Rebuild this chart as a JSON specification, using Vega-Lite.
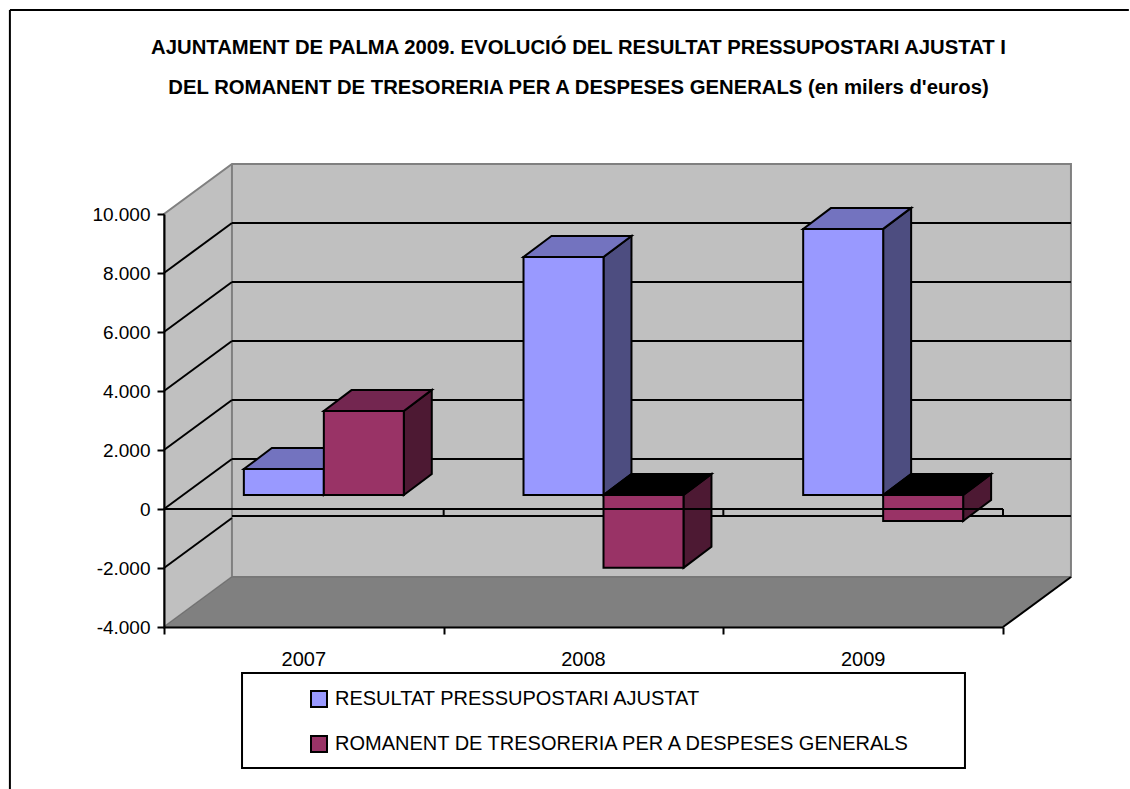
{
"$schema":"https://vega.github.io/schema/vega-lite/v6.json",
"width":839,"height":413,
"autosize":"none",
"padding":{"left":164,"top":214,"right":127,"bottom":162},
"background":"white",
"title":{"text":["AJUNTAMENT DE PALMA 2009. EVOLUCIÓ DEL RESULTAT PRESSUPOSTARI AJUSTAT I","DEL ROMANENT DE TRESORERIA PER A DESPESES GENERALS (en milers d'euros)"],"font":"Liberation Sans","fontWeight":"bold","fontSize":20.3,"lineHeight":40,"anchor":"middle","dx":-5,"offset":-89,"color":"black"},
"config":{"view":{"stroke":null},"axis":{"grid":false,"title":null,"labelFont":"Liberation Sans","labelFontSize":19,"labelColor":"black","domainColor":"black","tickColor":"black","domainWidth":2,"tickWidth":2,"tickSize":7}},
"datasets":{
"bars":[
{"year":"2007","series":"RESULTAT PRESSUPOSTARI AJUSTAT","value":880},
{"year":"2007","series":"ROMANENT DE TRESORERIA PER A DESPESES GENERALS","value":2850},
{"year":"2008","series":"RESULTAT PRESSUPOSTARI AJUSTAT","value":8070},
{"year":"2008","series":"ROMANENT DE TRESORERIA PER A DESPESES GENERALS","value":-2470},
{"year":"2009","series":"RESULTAT PRESSUPOSTARI AJUSTAT","value":9020},
{"year":"2009","series":"ROMANENT DE TRESORERIA PER A DESPESES GENERALS","value":-880}],
"sides":[
{"id":"B07","tone":"a","x":0.5,"lo":0,"hi":880},{"id":"B07","tone":"a","x":0.6,"lo":712,"hi":1592},
{"id":"R07","tone":"b","x":0.786,"lo":0,"hi":2850},{"id":"R07","tone":"b","x":0.886,"lo":712,"hi":3562},
{"id":"B08","tone":"a","x":1.5,"lo":0,"hi":8070},{"id":"B08","tone":"a","x":1.6,"lo":712,"hi":8782},
{"id":"R08","tone":"b","x":1.786,"lo":-2470,"hi":0},{"id":"R08","tone":"b","x":1.886,"lo":-1758,"hi":712},
{"id":"B09","tone":"a","x":2.5,"lo":0,"hi":9020},{"id":"B09","tone":"a","x":2.6,"lo":712,"hi":9732},
{"id":"R09","tone":"b","x":2.786,"lo":-880,"hi":0},{"id":"R09","tone":"b","x":2.886,"lo":-168,"hi":712}],
"tops":[
{"id":"B07","tone":"a","y":880,"x":0.214,"x2":0.5},{"id":"B07","tone":"a","y":1592,"x":0.314,"x2":0.6},
{"id":"R07","tone":"b","y":2850,"x":0.5,"x2":0.786},{"id":"R07","tone":"b","y":3562,"x":0.6,"x2":0.886},
{"id":"B08","tone":"a","y":8070,"x":1.214,"x2":1.5},{"id":"B08","tone":"a","y":8782,"x":1.314,"x2":1.6},
{"id":"R08","tone":"n","y":0,"x":1.5,"x2":1.786},{"id":"R08","tone":"n","y":712,"x":1.6,"x2":1.886},
{"id":"B09","tone":"a","y":9020,"x":2.214,"x2":2.5},{"id":"B09","tone":"a","y":9732,"x":2.314,"x2":2.6},
{"id":"R09","tone":"n","y":0,"x":2.5,"x2":2.786},{"id":"R09","tone":"n","y":712,"x":2.6,"x2":2.886}],
"grid":[
{"x":0,"x2":0.243,"y":8000,"y2":9695},{"x":0.243,"x2":3.243,"y":9695,"y2":9695},
{"x":0,"x2":0.243,"y":6000,"y2":7695},{"x":0.243,"x2":3.243,"y":7695,"y2":7695},
{"x":0,"x2":0.243,"y":4000,"y2":5695},{"x":0.243,"x2":3.243,"y":5695,"y2":5695},
{"x":0,"x2":0.243,"y":2000,"y2":3695},{"x":0.243,"x2":3.243,"y":3695,"y2":3695},
{"x":0,"x2":0.243,"y":0,"y2":1695},{"x":0.243,"x2":3.243,"y":1695,"y2":1695},
{"x":0,"x2":0.243,"y":-2000,"y2":-305},{"x":0.243,"x2":3.243,"y":-240,"y2":-240},
{"x":3,"x2":3.243,"y":-4000,"y2":-2305}],
"zero":[
{"x":0,"x2":3,"y":0,"y2":0},
{"x":1,"x2":1,"y":0,"y2":-237},{"x":2,"x2":2,"y":0,"y2":-237},{"x":3,"x2":3,"y":0,"y2":-237}],
"frame":[
{"x":-0.551,"x2":-0.551,"y":16916,"y2":-10000},{"x":-0.551,"x2":3.45,"y":16916,"y2":16916}]
},
"layer":[
{"data":{"values":[{"x":0,"lo":-4000,"hi":10000},{"x":0.243,"lo":-2305,"hi":11695},{"x":3.243,"lo":-2305,"hi":11695}]},
 "mark":{"type":"area","fill":"#c0c0c0","stroke":"#808080","strokeWidth":2},
 "encoding":{"x":{"field":"x","type":"quantitative","scale":{"domain":[0,3],"nice":false,"zero":false},"axis":{"values":[0,1,2,3],"labels":false,"domain":true,"ticks":true,"zindex":1,"orient":"bottom"}},
 "y":{"field":"lo","type":"quantitative","scale":{"domain":[-4000,10000],"nice":false,"zero":false},"axis":{"values":[-4000,-2000,0,2000,4000,6000,8000,10000],"labelPadding":7,"zindex":1,"labelExpr":"replace(replace(format(datum.value, ','), ',', '.'), '−', '-')"}},
 "y2":{"field":"hi"}}},
{"data":{"values":[{"x":0.243,"lo":-2305,"hi":11695}]},
 "mark":{"type":"rule","stroke":"#808080","strokeWidth":2},
 "encoding":{"x":{"field":"x","type":"quantitative","scale":{"domain":[0,3],"nice":false,"zero":false},"axis":null},"y":{"field":"lo","type":"quantitative"},"y2":{"field":"hi"}}},
{"data":{"values":[{"y":-4000,"x":0,"x2":3},{"y":-2305,"x":0.243,"x2":3.243}]},
 "mark":{"type":"area","orient":"horizontal","fill":"#808080","stroke":"#707070","strokeWidth":1},
 "encoding":{"y":{"field":"y","type":"quantitative"},"x":{"field":"x","type":"quantitative","scale":{"domain":[0,3],"nice":false,"zero":false},"axis":null},"x2":{"field":"x2"}}},
{"data":{"name":"grid"},"mark":{"type":"rule","stroke":"black","strokeWidth":2},
 "encoding":{"x":{"field":"x","type":"quantitative","scale":{"domain":[0,3],"nice":false,"zero":false},"axis":null},"x2":{"field":"x2"},"y":{"field":"y","type":"quantitative"},"y2":{"field":"y2"}}},
{"data":{"name":"sides"},"mark":{"type":"area","stroke":"black","strokeWidth":2,"xOffset":20,"yOffset":-14,"y2Offset":-14},
 "encoding":{"x":{"field":"x","type":"quantitative","scale":{"domain":[0,3],"nice":false,"zero":false},"axis":null},"y":{"field":"lo","type":"quantitative"},"y2":{"field":"hi"},"detail":{"field":"id"},
 "color":{"field":"tone","type":"nominal","legend":null,"scale":{"domain":["a","b"],"range":["#4d4d80","#4d1933"]}}}},
{"data":{"name":"tops"},"mark":{"type":"area","orient":"horizontal","stroke":"black","strokeWidth":2,"xOffset":20,"x2Offset":20,"yOffset":-14},
 "encoding":{"y":{"field":"y","type":"quantitative"},"x":{"field":"x","type":"quantitative","scale":{"domain":[0,3],"nice":false,"zero":false},"axis":null},"x2":{"field":"x2"},"detail":{"field":"id"},
 "color":{"field":"tone","type":"nominal","legend":null,"scale":{"domain":["a","b","n"],"range":["#7373bf","#732650","#000000"]}}}},
{"data":{"name":"bars"},"mark":{"type":"bar","stroke":"black","strokeWidth":2,"yOffset":-14,"y2Offset":-14},
 "encoding":{"x":{"field":"year","type":"nominal","scale":{"range":[20,859],"paddingInner":0.428,"paddingOuter":0.214},"axis":null},
 "xOffset":{"field":"series","type":"nominal"},
 "y":{"field":"value","type":"quantitative"},"y2":{"datum":0},
 "color":{"field":"series","type":"nominal","scale":{"range":["#9999ff","#993366"]},"legend":null}}},
{"data":{"name":"zero"},"mark":{"type":"rule","stroke":"black","strokeWidth":2},
 "encoding":{"x":{"field":"x","type":"quantitative","scale":{"domain":[0,3],"nice":false,"zero":false},"axis":null},"x2":{"field":"x2"},"y":{"field":"y","type":"quantitative"},"y2":{"field":"y2"}}},
{"data":{"values":[{"x":0.279,"x2":2.864,"y":-5560,"y2":-8780}]},"mark":{"type":"rect","fill":"white","stroke":"black","strokeWidth":2},
 "encoding":{"x":{"field":"x","type":"quantitative","scale":{"domain":[0,3],"nice":false,"zero":false},"axis":null},"x2":{"field":"x2"},"y":{"field":"y","type":"quantitative"},"y2":{"field":"y2"}}},
{"data":{"name":"bars"},"mark":{"type":"point","opacity":0,"filled":true},
 "encoding":{"x":{"field":"year","type":"nominal","scale":{"type":"band","paddingInner":0.428,"paddingOuter":0.214},"axis":{"orient":"bottom","ticks":false,"domain":false,"labelAngle":0,"labelPadding":22,"labelFontSize":20}},"y":{"field":"value","type":"quantitative"},
 "color":{"field":"series","type":"nominal","scale":{"range":["#9999ff","#993366"]},
 "legend":{"title":null,"orient":"none","legendX":145,"legendY":475,"symbolType":"square","symbolSize":256,"symbolOpacity":1,"symbolStrokeColor":"black","symbolStrokeWidth":2,"labelFont":"Liberation Sans","labelFontSize":20,"labelColor":"black","labelLimit":700,"labelOffset":6,"rowPadding":21}}}},
{"data":{"name":"frame"},"mark":{"type":"rule","stroke":"black","strokeWidth":2},
 "encoding":{"x":{"field":"x","type":"quantitative","scale":{"domain":[0,3],"nice":false,"zero":false},"axis":null},"x2":{"field":"x2"},"y":{"field":"y","type":"quantitative"},"y2":{"field":"y2"}}}
],
"resolve":{"scale":{"x":"independent","color":"independent"},"axis":{"x":"independent"}}
}
